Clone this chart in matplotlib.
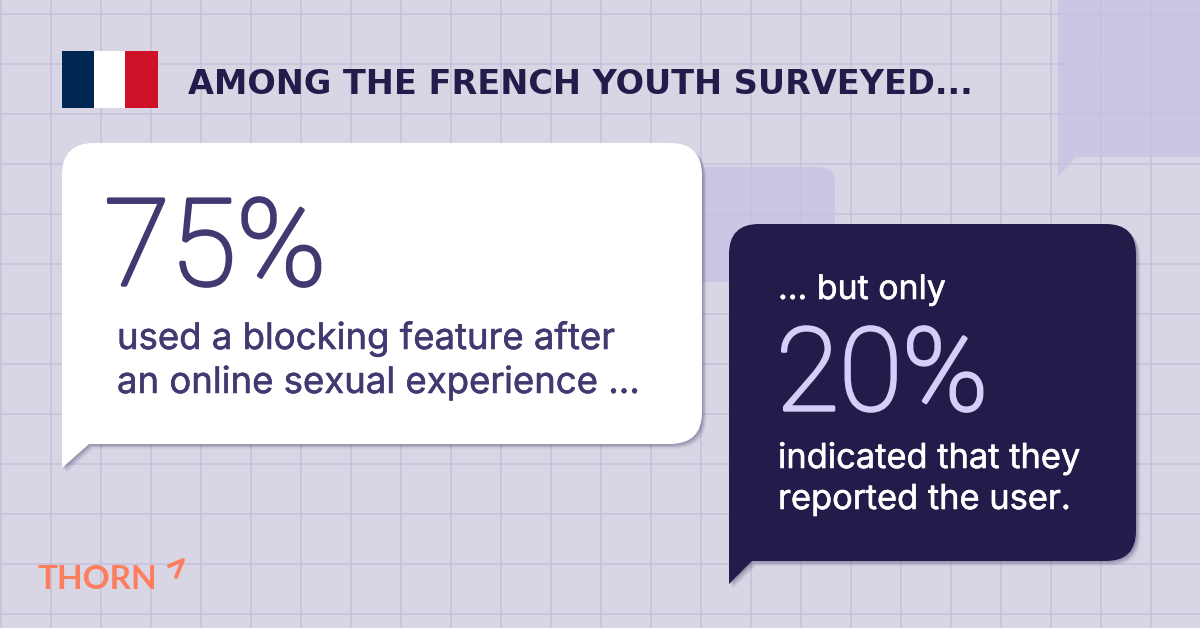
import matplotlib
matplotlib.use("Agg")
import matplotlib.pyplot as plt
import matplotlib.patheffects as pe
from matplotlib.path import Path
from matplotlib.patches import PathPatch, Rectangle

# text and numbers from the picture
title = "AMONG THE FRENCH YOUTH SURVEYED..."
first_pct = "75%"
first_lines = ["used a blocking feature after", "an online sexual experience ..."]
second_intro = "... but only"
second_pct = "20%"
second_lines = ["indicated that they", "reported the user."]
logo = "THORN"

BG = "#d8d6e5"
GRID = "#c6c2dc"
BACK = "#ccc5e3"
DARK = "#231b49"
PURPLE = "#433870"
LILAC = "#d5cef9"
CORAL = "#fd7e5f"

fig = plt.figure(figsize=(12, 6.28), dpi=100, facecolor=BG)
ax = fig.add_axes([0, 0, 1, 1])
ax.set_xlim(0, 1200)
ax.set_ylim(628, 0)
ax.axis("off")


def bubble(x0, y0, x1, y1, r, tail_tip=None, tail_w=0):
    # rounded box, tail hangs off the bottom left corner
    verts = [(x0 + r, y0), (x1 - r, y0), (x1, y0), (x1, y0 + r), (x1, y1 - r), (x1, y1), (x1 - r, y1)]
    codes = [Path.MOVETO, Path.LINETO, Path.CURVE3, Path.CURVE3, Path.LINETO, Path.CURVE3, Path.CURVE3]
    if tail_tip is not None:
        verts += [(x0 + tail_w, y1), (x0, tail_tip), (x0, y0 + r)]
        codes += [Path.LINETO, Path.LINETO, Path.LINETO]
    else:
        verts += [(x0 + r, y1), (x0, y1), (x0, y1 - r), (x0, y0 + r)]
        codes += [Path.LINETO, Path.CURVE3, Path.CURVE3, Path.LINETO]
    verts += [(x0, y0), (x0 + r, y0), (x0 + r, y0)]
    codes += [Path.CURVE3, Path.CURVE3, Path.CLOSEPOLY]
    return Path(verts, codes)


def add_bubble(path, color, z, shadow=False):
    if shadow:
        for off, a in [(1.5, 0.16), (3, 0.13), (4.5, 0.08)]:
            shifted = Path(path.vertices + off, path.codes)
            ax.add_patch(PathPatch(shifted, fc="#231b49", ec="none", alpha=a, zorder=z - 0.5))
    ax.add_patch(PathPatch(path, fc=color, ec="none", zorder=z))


# back bubbles sit under the grid
add_bubble(bubble(640, 167, 835, 282, 16), BACK, 1)
add_bubble(bubble(1058, -40, 1240, 157, 10, tail_tip=177, tail_w=18), BACK, 1)

for gx in range(1, 1200, 50):
    ax.axvline(gx, color=GRID, lw=1.2, zorder=2)
for gy in range(14, 628, 50):
    ax.axhline(gy, color=GRID, lw=1.2, zorder=2)

add_bubble(bubble(62, 143, 702, 444, 32, tail_tip=468, tail_w=27), "white", 4, shadow=True)
add_bubble(bubble(729, 224, 1136, 561, 30, tail_tip=584, tail_w=23), DARK, 6, shadow=True)

# flag
ax.add_patch(Rectangle((62, 51), 32, 57, fc="#002654", ec="none", zorder=3))
ax.add_patch(Rectangle((94, 51), 31, 57, fc="white", ec="none", zorder=3))
ax.add_patch(Rectangle((125, 51), 33, 57, fc="#ce1126", ec="none", zorder=3))

ax.text(188, 94, title, fontsize=24.1, fontweight="bold", family="DejaVu Sans", color=DARK, va="baseline", zorder=8)

# Roboto light comes out too thin here, so fatten the big numbers a little
ax.text(104, 285, first_pct, fontsize=87, family="Roboto", fontweight="light", color=PURPLE, va="baseline", zorder=8,
        path_effects=[pe.withStroke(linewidth=2.4, foreground=PURPLE)])
for line, y in zip(first_lines, [349, 393]):
    ax.text(117, y, line, fontsize=26.3, family="Inter", color=PURPLE, va="baseline", zorder=8,
            path_effects=[pe.withStroke(linewidth=0.4, foreground=PURPLE)])

ax.text(778, 299, second_intro, fontsize=24.4, family="Inter", color="white", va="baseline", zorder=8,
        path_effects=[pe.withStroke(linewidth=0.4, foreground="white")])
ax.text(776, 410, second_pct, fontsize=83, family="Roboto", fontweight="light", color=LILAC, va="baseline", zorder=8,
        path_effects=[pe.withStroke(linewidth=2.4, foreground=LILAC)])
for line, y in zip(second_lines, [468, 509]):
    ax.text(778, y, line, fontsize=24.8, family="Inter", color="white", va="baseline", zorder=8,
            path_effects=[pe.withStroke(linewidth=0.4, foreground="white")])

# logo
ax.text(38, 589, logo, fontsize=24, family="Lato", fontweight="bold", color=CORAL, va="baseline", zorder=8)
ax.plot([169, 183, 176], [566, 560, 577], color=CORAL, lw=2.8, solid_capstyle="round", solid_joinstyle="round", zorder=8)

fig.savefig("out.png", dpi=100, facecolor=BG)
